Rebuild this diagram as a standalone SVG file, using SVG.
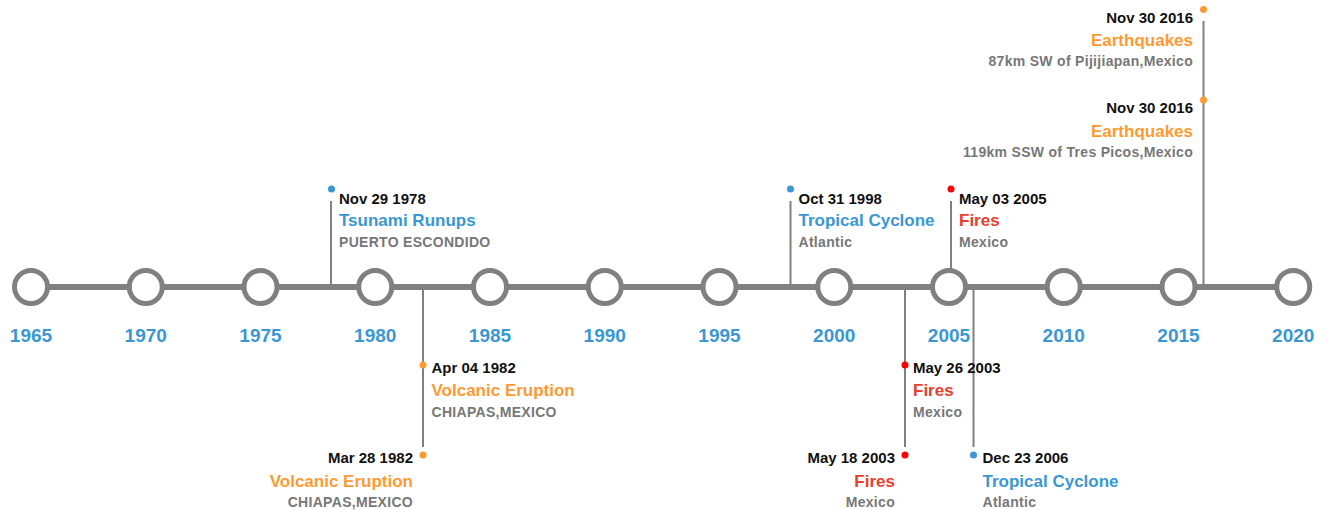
<svg xmlns="http://www.w3.org/2000/svg" width="1328" height="510" viewBox="0 0 1328 510">
<style>
text{font-family:"Liberation Sans",Arial,sans-serif;font-weight:bold}
.yr{font-size:19px;fill:#3a97d4;text-anchor:middle}
.date{font-size:15px;fill:#111}
.title{font-size:17px}
.sub{font-size:14px;fill:#777;letter-spacing:0.3px}
.end{text-anchor:end}
.blue{fill:#3a97d4}
.orange{fill:#ff9a33}
.red{fill:#e8402f}
.tick{stroke:#808080;stroke-width:2;fill:none}
.yc{fill:#fff;stroke:#808080;stroke-width:5}
</style>
<rect width="1328" height="510" fill="#fff"/>
<g id="connectors">
<line x1="31" y1="287" x2="1293" y2="287" stroke="#808080" stroke-width="6"/>
<line class="tick" x1="331" y1="201" x2="331" y2="287"/>
<line class="tick" x1="423" y1="287" x2="423" y2="447"/>
<line class="tick" x1="790.5" y1="201" x2="790.5" y2="287"/>
<line class="tick" x1="905" y1="287" x2="905" y2="447"/>
<line class="tick" x1="951" y1="201" x2="951" y2="287"/>
<line class="tick" x1="973.5" y1="287" x2="973.5" y2="447"/>
<line class="tick" x1="1203.5" y1="21" x2="1203.5" y2="287"/>
</g>
<g id="years">
<g id="y1965"><circle class="yc" cx="31" cy="287" r="16.5"/><text class="yr" x="31" y="342">1965</text></g>
<g id="y1970"><circle class="yc" cx="145.75" cy="287" r="16.5"/><text class="yr" x="145.75" y="342">1970</text></g>
<g id="y1975"><circle class="yc" cx="260.5" cy="287" r="16.5"/><text class="yr" x="260.5" y="342">1975</text></g>
<g id="y1980"><circle class="yc" cx="375.25" cy="287" r="16.5"/><text class="yr" x="375.25" y="342">1980</text></g>
<g id="y1985"><circle class="yc" cx="490" cy="287" r="16.5"/><text class="yr" x="490" y="342">1985</text></g>
<g id="y1990"><circle class="yc" cx="604.75" cy="287" r="16.5"/><text class="yr" x="604.75" y="342">1990</text></g>
<g id="y1995"><circle class="yc" cx="719.5" cy="287" r="16.5"/><text class="yr" x="719.5" y="342">1995</text></g>
<g id="y2000"><circle class="yc" cx="834.25" cy="287" r="16.5"/><text class="yr" x="834.25" y="342">2000</text></g>
<g id="y2005"><circle class="yc" cx="949" cy="287" r="16.5"/><text class="yr" x="949" y="342">2005</text></g>
<g id="y2010"><circle class="yc" cx="1063.75" cy="287" r="16.5"/><text class="yr" x="1063.75" y="342">2010</text></g>
<g id="y2015"><circle class="yc" cx="1178.5" cy="287" r="16.5"/><text class="yr" x="1178.5" y="342">2015</text></g>
<g id="y2020"><circle class="yc" cx="1293.25" cy="287" r="16.5"/><text class="yr" x="1293.25" y="342">2020</text></g>
</g>
<g id="ev1978">
<circle cx="331.5" cy="189" r="3.5" fill="#3a97d4"/>
<text class="date" x="339" y="204.3">Nov 29 1978</text>
<text class="title blue" x="339" y="226.2">Tsunami Runups</text>
<text class="sub" x="339" y="246.7">PUERTO ESCONDIDO</text>
</g>
<g id="ev1982a">
<circle cx="423" cy="365" r="3.5" fill="#ff9a33"/>
<text class="date" x="431.5" y="373.3">Apr 04 1982</text>
<text class="title orange" x="431.5" y="396.2">Volcanic Eruption</text>
<text class="sub" x="431.5" y="416.7">CHIAPAS,MEXICO</text>
</g>
<g id="ev1982b">
<circle cx="423" cy="455" r="3.5" fill="#ff9a33"/>
<text class="date end" x="413" y="463.3">Mar 28 1982</text>
<text class="title orange end" x="413" y="487">Volcanic Eruption</text>
<text class="sub end" x="413" y="506.7">CHIAPAS,MEXICO</text>
</g>
<g id="ev1998">
<circle cx="790.5" cy="189" r="3.5" fill="#3a97d4"/>
<text class="date" x="798.5" y="204.3">Oct 31 1998</text>
<text class="title blue" x="798.5" y="226.2">Tropical Cyclone</text>
<text class="sub" x="798.5" y="246.7">Atlantic</text>
</g>
<g id="ev2005">
<circle cx="951" cy="189" r="3.5" fill="#ff0000"/>
<text class="date" x="959" y="204.3">May 03 2005</text>
<text class="title red" x="959" y="226.2">Fires</text>
<text class="sub" x="959" y="246.7">Mexico</text>
</g>
<g id="ev2003a">
<circle cx="905" cy="365" r="3.5" fill="#ff0000"/>
<text class="date" x="913" y="373.3">May 26 2003</text>
<text class="title red" x="913" y="396.2">Fires</text>
<text class="sub" x="913" y="416.7">Mexico</text>
</g>
<g id="ev2003b">
<circle cx="905" cy="455" r="3.5" fill="#ff0000"/>
<text class="date end" x="895" y="463.3">May 18 2003</text>
<text class="title red end" x="895" y="487">Fires</text>
<text class="sub end" x="895" y="506.7">Mexico</text>
</g>
<g id="ev2006">
<circle cx="973.5" cy="455" r="3.5" fill="#3a97d4"/>
<text class="date" x="982.5" y="463.3">Dec 23 2006</text>
<text class="title blue" x="982.5" y="487">Tropical Cyclone</text>
<text class="sub" x="982.5" y="506.7">Atlantic</text>
</g>
<g id="ev2016a">
<circle cx="1203.5" cy="9.5" r="3.5" fill="#ff9a33"/>
<text class="date end" x="1193" y="22.7">Nov 30 2016</text>
<text class="title orange end" x="1193" y="46">Earthquakes</text>
<text class="sub end" x="1193" y="65.7">87km SW of Pijijiapan,Mexico</text>
</g>
<g id="ev2016b">
<circle cx="1203.5" cy="100" r="3.5" fill="#ff9a33"/>
<text class="date end" x="1193" y="113.3">Nov 30 2016</text>
<text class="title orange end" x="1193" y="137">Earthquakes</text>
<text class="sub end" x="1193" y="156.7">119km SSW of Tres Picos,Mexico</text>
</g>
</svg>
